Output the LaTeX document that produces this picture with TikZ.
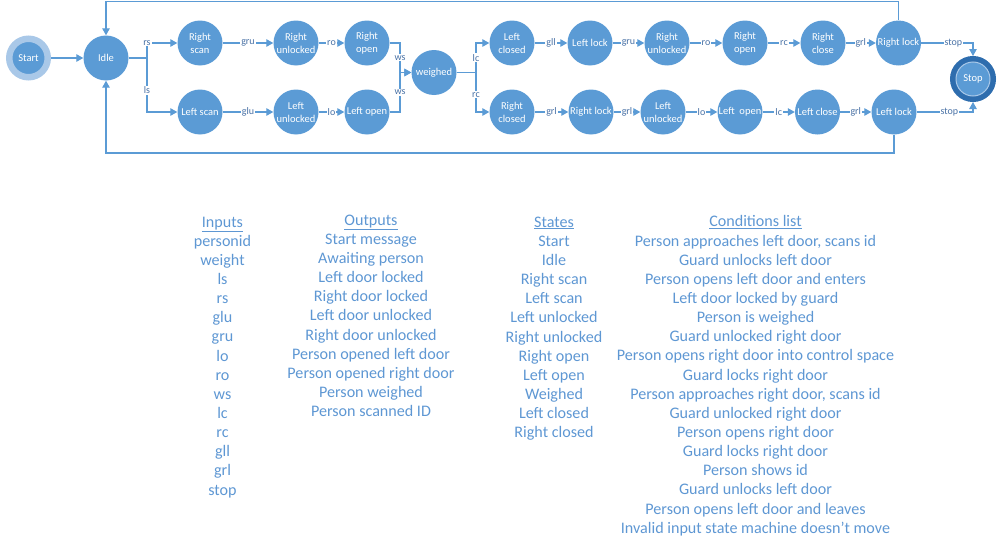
\documentclass[tikz,border=0pt]{standalone}
\usepackage{fontspec}
\setmainfont{Carlito}
\usetikzlibrary{arrows.meta,calc}
\definecolor{nb}{HTML}{5B9BD5}
\definecolor{lb}{HTML}{A9C8E8}
\definecolor{db}{HTML}{2E6DAE}
\definecolor{tb}{HTML}{4A72A6}
\definecolor{lt}{HTML}{5E97D3}
\begin{document}
\begin{tikzpicture}[x=1pt,y=-1pt,
  st/.style={circle,fill=nb,minimum size=45pt,inner sep=0pt,text=white,
    font=\fontsize{10.5}{13}\selectfont,align=center},
  conn/.style={draw=nb,line width=1.1pt,-{Triangle[length=7pt,width=7.5pt]}},
  lab/.style={fill=white,text=tb,font=\fontsize{10}{11}\selectfont,inner sep=1pt},
  lst/.style={text=lt,font=\fontsize{16.1}{19.15}\selectfont,align=center,anchor=north,inner sep=0pt}]
\useasboundingbox (0,0) rectangle (1002,546);
% states
\node[st,minimum size=38.5pt,draw=lb,line width=6.5pt] (start) at (28.5,58) {Start};
\node[st] (idle) at (106,58) {Idle};
\node[st] (rscan) at (200,43) {Right\\scan};
\node[st] (runl1) at (296,43) {Right\\unlocked};
\node[st] (ropen1) at (367,43) {Right\\open};
\node[st] (lscan) at (200,112) {Left scan};
\node[st] (lunl1) at (296,112) {Left\\unlocked};
\node[st] (lopen1) at (367,112) {Left open};
\node[st] (weighed) at (434,72.5) {weighed};
\node[st] (lclosed) at (512,43) {Left\\closed};
\node[st] (llock1) at (590,43) {Left lock};
\node[st] (runl2) at (667,43) {Right\\unlocked};
\node[st] (ropen2) at (745,43) {Right\\open};
\node[st] (rclose) at (823,43) {Right\\close};
\node[st] (rlock1) at (898.5,43) {Right lock};
\node[st] (rclosed) at (512,112) {Right\\closed};
\node[st] (rlock2) at (591,112) {Right lock};
\node[st] (lunl2) at (663,112) {Left\\unlocked};
\node[st] (lopen2) at (740,112) {Left\ \ open};
\node[st] (lclose) at (817.5,112) {Left close};
\node[st] (llock2) at (894,112) {Left lock};
\node[st,minimum size=34pt,draw=lb,line width=1pt,outer sep=6pt,
  preaction={draw=db,line width=12pt}] (stop) at (973,79) {Stop};
% junctions
\coordinate (j1) at (147,58);
\coordinate (j2) at (400,72.5);
\coordinate (j3) at (476,72.5);
\coordinate (tl) at (106,1.5);
\coordinate (bl) at (106,153);
% connectors
\draw[conn] (start) -- (idle);
\draw[conn] (idle.east) -- (j1) |- node[lab,pos=0.5]{rs} (rscan);
\draw[conn] (j1) |- node[lab,pos=0.3]{ls} (lscan);
\draw[conn] (rscan) -- node[lab]{gru} (runl1);
\draw[conn] (runl1) -- node[lab]{ro} (ropen1);
\draw[conn] (lscan) -- node[lab]{glu} (lunl1);
\draw[conn] (lunl1) -- node[lab]{lo} (lopen1);
\draw[conn] (ropen1.east) -| node[lab,pos=0.75]{ws} (j2) -- (weighed);
\draw[conn] (lopen1.east) -| node[lab,pos=0.75]{ws} (j2) -- (weighed);
\draw[conn] (weighed) -- (j3) |- node[lab,pos=0.25]{lc} (lclosed);
\draw[conn] (j3) |- node[lab,pos=0.28]{rc} (rclosed);
\draw[conn] (lclosed) -- node[lab]{gll} (llock1);
\draw[conn] (llock1) -- node[lab]{gru} (runl2);
\draw[conn] (runl2) -- node[lab]{ro} (ropen2);
\draw[conn] (ropen2) -- node[lab]{rc} (rclose);
\draw[conn] (rclose) -- node[lab]{grl} (rlock1);
\draw[conn] (rclosed) -- node[lab]{grl} (rlock2);
\draw[conn] (rlock2) -- node[lab]{grl} (lunl2);
\draw[conn] (lunl2) -- node[lab]{lo} (lopen2);
\draw[conn] (lopen2) -- node[lab]{lc} (lclose);
\draw[conn] (lclose) -- node[lab]{grl} (llock2);
\draw[conn] (rlock1) -| node[lab,pos=0.31]{stop} (stop);
\draw[conn] (llock2) -| node[lab,pos=0.29]{stop} (stop);
\draw[conn] (rlock1.north) |- (tl) -- (idle);
\draw[conn] (llock2.south) |- (bl) -- (idle);
% lists
\node[lst] (inputs) at (222.5,216.5) {\underline{Inputs}\\personid\\weight\\ls\\rs\\glu\\gru\\lo\\ro\\ws\\lc\\rc\\gll\\grl\\stop};
\node[lst] (outputs) at (371,214.5) {\underline{Outputs}\\Start message\\Awaiting person\\Left door locked\\Right door locked\\Left door unlocked\\Right door unlocked\\Person opened left door\\Person opened right door\\Person weighed\\Person scanned ID};
\node[lst] (states) at (554,216.5) {\underline{States}\\Start\\Idle\\Right scan\\Left scan\\Left unlocked\\Right unlocked\\Right open\\Left open\\Weighed\\Left closed\\Right closed};
\node[lst] (conds) at (755.5,215.5) {\underline{Conditions list}\\Person approaches left door, scans id\\Guard unlocks left door\\Person opens left door and enters\\Left door locked by guard\\Person is weighed\\Guard unlocked right door\\Person opens right door into control space\\Guard locks right door\\Person approaches right door, scans id\\Guard unlocked right door\\Person opens right door\\Guard locks right door\\Person shows id\\Guard unlocks left door\\Person opens left door and leaves\\Invalid input state machine doesn’t move};
\end{tikzpicture}
\end{document}
